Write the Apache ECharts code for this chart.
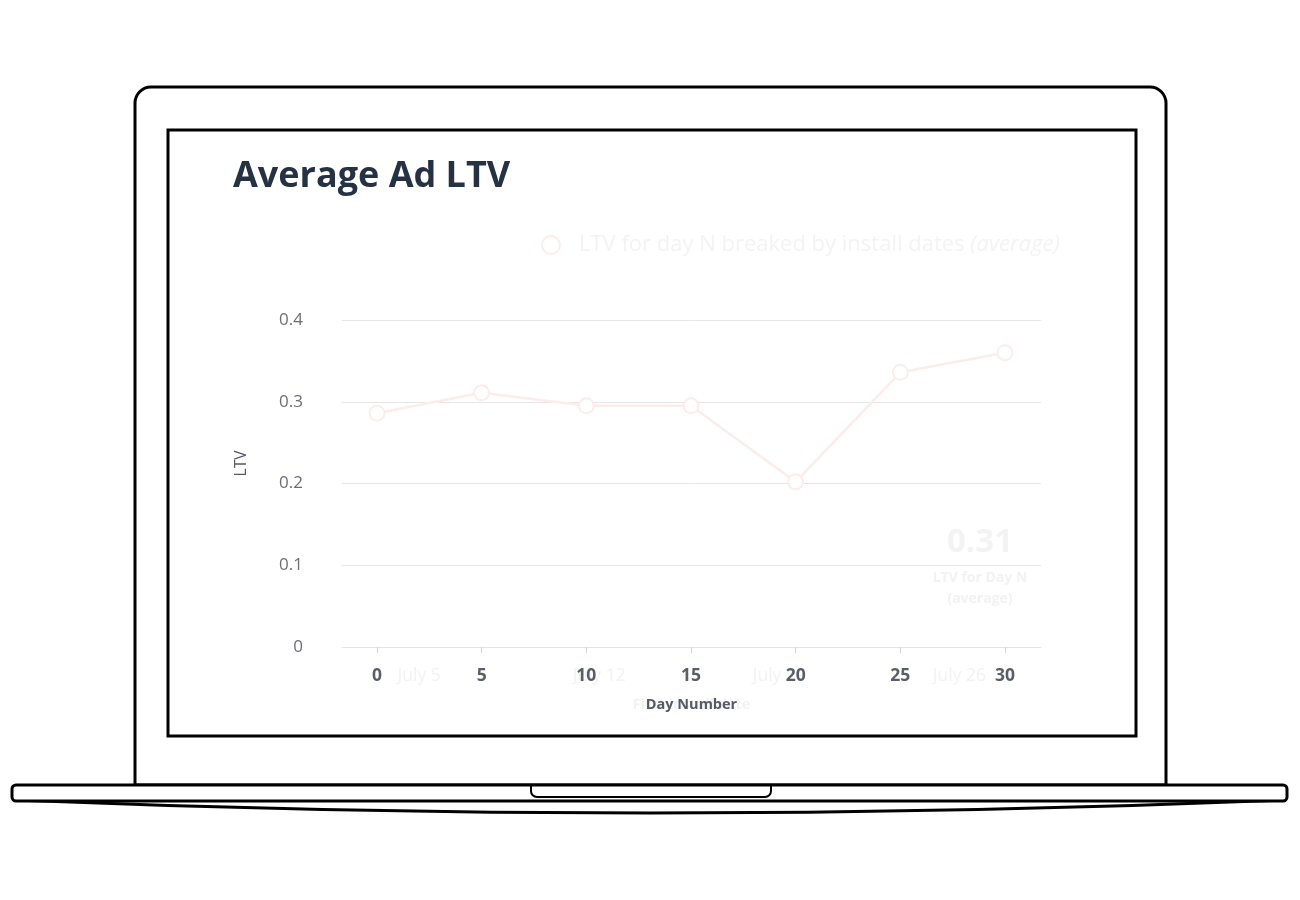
<!DOCTYPE html>
<html>
<head>
<meta charset="utf-8">
<title>Average Ad LTV</title>
<script src="https://cdn.jsdelivr.net/npm/echarts@6/dist/echarts.min.js"></script>
<style>
html,body{margin:0;padding:0;background:#fff;}
#chart{width:1300px;height:900px;}
</style>
</head>
<body>
<div id="chart"></div>
<script>
// ---- data ----
const dayNumbers = [0, 5, 10, 15, 20, 25, 30];
const ltvValues = [0.286, 0.311, 0.295, 0.295, 0.202, 0.336, 0.360];
const yTicks = [0, 0.1, 0.2, 0.3, 0.4];
const installDays = [5, 12, 19, 26];          // July dates shown on the faint install-date axis
const installMonth = 'July';
const kpiValue = '0.31';
const seriesName = 'LTV for day N breaked by install dates';

const FONT = '"Open Sans", "Noto Sans", sans-serif';
const chart = echarts.init(document.getElementById('chart'));

const seriesData = dayNumbers.map((d, i) => [d, ltvValues[i]]);

chart.setOption({
  animation: false,
  backgroundColor: '#ffffff',
  textStyle: { fontFamily: FONT },
  title: {
    text: 'Average Ad LTV',
    left: 228,
    top: 154,
    textStyle: { fontFamily: FONT, fontSize: 36, fontWeight: 700, color: '#253244' }
  },
  legend: {
    left: 536,
    top: 229,
    icon: 'emptyCircle',
    itemWidth: 18,
    itemHeight: 18,
    itemGap: 10,
    data: [seriesName],
    formatter: (n) => '{a|' + n + ' }{b|(average)}',
    textStyle: {
      rich: {
        a: { fontFamily: FONT, fontSize: 22, color: '#f3f3f3', padding: [0, 0, 0, 14] },
        b: { fontFamily: FONT, fontSize: 22, color: '#f3f3f3', fontStyle: 'italic' }
      }
    }
  },
  grid: { left: 342, right: 259, top: 320, bottom: 253 },
  xAxis: [
    {
      type: 'value',
      min: -1.672,
      max: 31.72,
      z: 3,
      name: 'Day Number',
      nameLocation: 'middle',
      nameGap: 50,
      nameTextStyle: { fontFamily: FONT, fontSize: 14.5, fontWeight: 700, color: '#555a66' },
      axisLine: { show: true, lineStyle: { color: '#e4e4e4', width: 1 } },
      axisTick: { show: true, customValues: dayNumbers, length: 6, lineStyle: { color: '#d4d4d4' } },
      axisLabel: {
        customValues: dayNumbers,
        margin: 20,
        fontFamily: FONT, fontSize: 17.5, fontWeight: 700, color: '#5a5e6a'
      },
      splitLine: { show: false }
    },
    {
      type: 'value',
      min: 2.0,
      max: 29.17,
      position: 'bottom',
      z: 1,
      name: 'First install date',
      nameLocation: 'middle',
      nameGap: 50,
      nameTextStyle: { fontFamily: FONT, fontSize: 14.5, fontWeight: 700, color: '#f2f2f2' },
      axisLine: { show: false },
      axisTick: { show: false },
      splitLine: { show: false },
      axisLabel: {
        customValues: installDays,
        margin: 20,
        fontFamily: FONT, fontSize: 17.5, color: '#f2f2f2',
        formatter: (v) => installMonth + ' ' + v
      }
    }
  ],
  yAxis: {
    type: 'value',
    min: 0,
    max: 0.4,
    interval: 0.1,
    name: 'LTV',
    nameLocation: 'middle',
    nameGap: 92,
    nameTextStyle: { fontFamily: FONT, fontSize: 15.5, color: '#555a66', padding: [0, 0, 0, 40] },
    axisLine: { show: false },
    axisTick: { show: false },
    axisLabel: { margin: 39, fontFamily: FONT, fontSize: 17, color: '#6b6e7a',
      formatter: (v) => String(+v.toFixed(1)) },
    splitLine: { show: true, lineStyle: { color: '#e6e6e6', width: 1 } }
  },
  series: [{
    name: seriesName,
    type: 'line',
    xAxisIndex: 0,
    data: seriesData,
    symbol: 'emptyCircle',
    symbolSize: 15,
    lineStyle: { color: '#fcecec', width: 2.5 },
    itemStyle: { color: '#fcecec', borderColor: '#fcecec', borderWidth: 2.5 },
    z: 2
  }],
  graphic: [
    { type: 'rect', shape: { x: 135, y: 87, width: 1031, height: 698, r: [16, 16, 0, 0] },
      style: { fill: 'none', stroke: '#000', lineWidth: 3 }, z: 10, silent: true },
    { type: 'rect', shape: { x: 168, y: 130, width: 968, height: 606 },
      style: { fill: 'none', stroke: '#000', lineWidth: 3 }, z: 10, silent: true },
    { type: 'bezierCurve', shape: { x1: 14, y1: 800, x2: 1286, y2: 800, cpx1: 650, cpy1: 826 },
      style: { fill: 'none', stroke: '#000', lineWidth: 3 }, z: 10, silent: true },
    { type: 'rect', shape: { x: 12, y: 785, width: 1275, height: 16, r: 4 },
      style: { fill: '#fff', stroke: '#000', lineWidth: 3 }, z: 11, silent: true },
    { type: 'rect', shape: { x: 531, y: 785, width: 240, height: 12, r: [0, 0, 6, 6] },
      style: { fill: 'none', stroke: '#000', lineWidth: 2 }, z: 12, silent: true },
    { type: 'text', x: 980, y: 543, z: 1, silent: true,
      style: { text: kpiValue, fontFamily: FONT, fontSize: 33, fontWeight: 700, fill: '#f3f3f3', align: 'center', verticalAlign: 'middle' } },
    { type: 'text', x: 980, y: 578, z: 1, silent: true,
      style: { text: 'LTV for Day N', fontFamily: FONT, fontSize: 14, fontWeight: 700, fill: '#f2f2f2', align: 'center', verticalAlign: 'middle' } },
    { type: 'text', x: 980, y: 599, z: 1, silent: true,
      style: { text: '(average)', fontFamily: FONT, fontSize: 14, fontWeight: 700, fill: '#f2f2f2', align: 'center', verticalAlign: 'middle' } }
  ]
});
</script>
</body>
</html>
